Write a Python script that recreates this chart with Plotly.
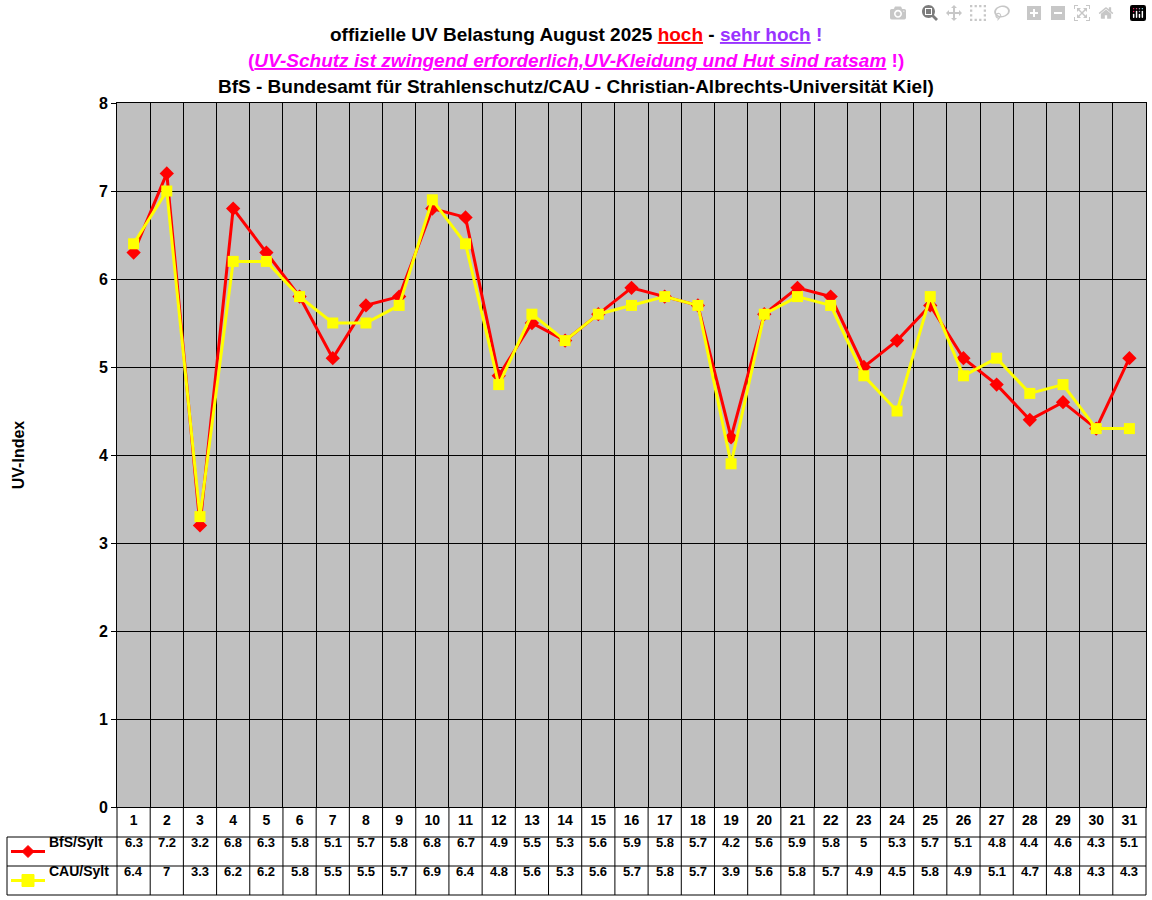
import plotly.graph_objects as go

days = list(range(1, 32))
bfs = [6.3,7.2,3.2,6.8,6.3,5.8,5.1,5.7,5.8,6.8,6.7,4.9,5.5,5.3,5.6,5.9,5.8,5.7,4.2,5.6,5.9,5.8,5.0,5.3,5.7,5.1,4.8,4.4,4.6,4.3,5.1]
cau = [6.4,7.0,3.3,6.2,6.2,5.8,5.5,5.5,5.7,6.9,6.4,4.8,5.6,5.3,5.6,5.7,5.8,5.7,3.9,5.6,5.8,5.7,4.9,4.5,5.8,4.9,5.1,4.7,4.8,4.3,4.3]
series_names = ["BfS/Sylt", "CAU/Sylt"]
yticks = list(range(0, 9))

W, H = 1152, 900
def px(x): return x / W
def py(y): return 1 - y / H

FONT = "Liberation Sans, Arial, sans-serif"
x0, x1, yt, yb = 117, 1146, 103, 807

fig = go.Figure()
fig.add_trace(go.Scatter(x=days, y=bfs, mode="lines+markers", name=series_names[0],
    line=dict(color="#FF0000", width=3), marker=dict(symbol="diamond", size=11, color="#FF0000")))
fig.add_trace(go.Scatter(x=days, y=cau, mode="lines+markers", name=series_names[1],
    line=dict(color="#FFFF00", width=3), marker=dict(symbol="square", size=11, color="#FFFF00")))

fig.update_layout(
    width=W, height=H, margin=dict(l=0, r=0, t=0, b=0, pad=0, autoexpand=False),
    paper_bgcolor="white", plot_bgcolor="#C0C0C0", showlegend=False,
    font=dict(family=FONT, color="black"),
    xaxis=dict(domain=[px(x0), px(x1)], range=[0.5, 31.5], tickvals=days, automargin=False,
               ticktext=[f"<b>{d}</b>" for d in days], ticks="", showgrid=False,
               tickfont=dict(size=14), showline=True, linecolor="black", mirror=True,
               minor=dict(tickvals=[d + 0.5 for d in range(0, 32)], showgrid=True,
                          gridcolor="black", gridwidth=1)),
    yaxis=dict(domain=[py(yb), py(yt)], range=[0, 8], tickvals=yticks, automargin=False,
               ticktext=[f"<b>{t}</b>" for t in yticks], showgrid=True,
               gridcolor="black", gridwidth=1, zeroline=False, tickfont=dict(size=16),
               showline=True, linecolor="black", mirror=True, ticks="outside",
               ticklen=5, tickcolor="black",
               title=dict(text="<b>UV-Index</b>", font=dict(size=16), standoff=70)),
)

cw = (x1 - x0) / 31
shapes = []
for i in range(32):
    xx = x0 + i * cw
    shapes.append(dict(type="line", xref="paper", yref="paper", x0=px(xx), x1=px(xx),
                       y0=py(yb), y1=py(895), line=dict(color="black", width=1)))
shapes.append(dict(type="line", xref="paper", yref="paper", x0=px(7), x1=px(7),
                   y0=py(837), y1=py(895), line=dict(color="black", width=1)))
for yy in (837, 866, 895):
    shapes.append(dict(type="line", xref="paper", yref="paper", x0=px(7), x1=px(x1),
                       y0=py(yy), y1=py(yy), line=dict(color="black", width=1)))
for yy, col, sym in ((851.5, "#FF0000", "d"), (880.5, "#FFFF00", "s")):
    shapes.append(dict(type="line", xref="paper", yref="paper", x0=px(11), x1=px(45),
                       y0=py(yy), y1=py(yy), line=dict(color=col, width=3)))
    cx = 28
    if sym == "d":
        path = f"M {px(cx-6)} {py(yy)} L {px(cx)} {py(yy-6)} L {px(cx+6)} {py(yy)} L {px(cx)} {py(yy+6)} Z"
        shapes.append(dict(type="path", xref="paper", yref="paper", path=path,
                           fillcolor=col, line=dict(color=col, width=1)))
    else:
        shapes.append(dict(type="rect", xref="paper", yref="paper", x0=px(cx-6), x1=px(cx+6),
                           y0=py(yy+6), y1=py(yy-6), fillcolor=col, line=dict(color=col, width=1)))
fig.update_layout(shapes=shapes)

ann = []
def fmt(v):
    return str(int(v)) if v == int(v) else f"{v:.1f}"
for yy, vals, nm in ((851.5, bfs, series_names[0]), (880.5, cau, series_names[1])):
    ann.append(dict(xref="paper", yref="paper", x=px(47), y=py(yy), text=f"<b>{nm}</b>",
                    showarrow=False, xanchor="left", font=dict(size=14)))
    for d, v in zip(days, vals):
        ann.append(dict(xref="x", yref="paper", x=d, y=py(yy), text=f"<b>{fmt(v)}</b>",
                        showarrow=False, font=dict(size=13)))
ann.append(dict(xref="paper", yref="paper", x=0.5, y=py(22), showarrow=False, font=dict(size=19),
    text="<b>offizielle UV Belastung August 2025 <span style='color:#FF0000'><u>hoch</u></span> - "
         "<span style='color:#9933FF'><u>sehr hoch</u> !</span></b>"))
ann.append(dict(xref="paper", yref="paper", x=0.5, y=py(48), showarrow=False, font=dict(size=19, color="#FF00FF"),
    text="<b>(<i><u>UV-Schutz ist zwingend erforderlich,UV-Kleidung und Hut sind ratsam</u></i> !)</b>"))
ann.append(dict(xref="paper", yref="paper", x=0.5, y=py(74), showarrow=False, font=dict(size=19),
    text="<b>BfS - Bundesamt für Strahlenschutz/CAU - Christian-Albrechts-Universität Kiel)</b>"))
fig.update_layout(annotations=ann)

fig.write_html("out.html")
with open("out.html", encoding="utf-8") as f:
    html = f.read()
html = html.replace("<head>", "<head><style>html,body{margin:0;padding:0;overflow:hidden}</style>", 1)
with open("out.html", "w", encoding="utf-8") as f:
    f.write(html)
